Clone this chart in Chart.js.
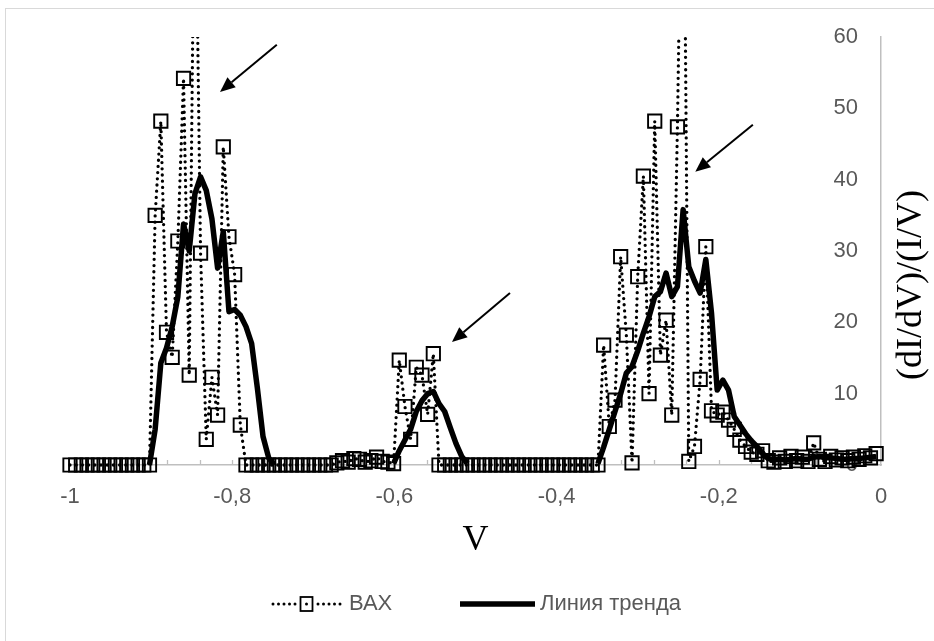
<!DOCTYPE html>
<html>
<head>
<meta charset="utf-8">
<script src="https://cdn.jsdelivr.net/npm/chart.js@4.4.1/dist/chart.umd.min.js"></script>
<style>
  html, body { margin: 0; padding: 0; background: #fff; overflow: hidden; }
  #wrap { position: relative; width: 934px; height: 641px; overflow: hidden; }
  #frame { position: absolute; left: 5px; top: 8px; width: 960px; height: 700px; border: 1px solid #d9d9d9; }
  #chart { position: absolute; left: 0; top: 0; }
</style>
</head>
<body>
<div id="wrap">
  <div id="frame"></div>
  <canvas id="chart" width="934" height="641"></canvas>
</div>
<script>
// voltage grid (V)
const voltage = [
  -1, -0.993, -0.986, -0.979, -0.972, -0.965, -0.958, -0.951, -0.944, -0.937,
  -0.93, -0.923, -0.916, -0.909, -0.902, -0.895, -0.888, -0.881, -0.874, -0.867,
  -0.86, -0.853, -0.846, -0.839, -0.832, -0.825, -0.818, -0.811, -0.804, -0.797,
  -0.79, -0.783, -0.776, -0.769, -0.762, -0.755, -0.748, -0.741, -0.734, -0.727,
  -0.72, -0.713, -0.706, -0.699, -0.692, -0.685, -0.678, -0.671, -0.664, -0.657,
  -0.65, -0.643, -0.636, -0.629, -0.622, -0.615, -0.608, -0.601, -0.594, -0.587,
  -0.58, -0.573, -0.566, -0.559, -0.552, -0.545, -0.538, -0.531, -0.524, -0.517,
  -0.51, -0.503, -0.496, -0.489, -0.482, -0.475, -0.468, -0.461, -0.454, -0.447,
  -0.44, -0.433, -0.426, -0.419, -0.412, -0.405, -0.398, -0.391, -0.384, -0.377,
  -0.37, -0.363, -0.356, -0.349, -0.342, -0.335, -0.328, -0.321, -0.314, -0.307,
  -0.3, -0.293, -0.286, -0.279, -0.272, -0.265, -0.258, -0.251, -0.244, -0.237,
  -0.23, -0.223, -0.216, -0.209, -0.202, -0.195, -0.188, -0.181, -0.174, -0.167,
  -0.16, -0.153, -0.146, -0.139, -0.132, -0.125, -0.118, -0.111, -0.104, -0.097,
  -0.09, -0.083, -0.076, -0.069, -0.062, -0.055, -0.048, -0.041, -0.034, -0.027,
  -0.02, -0.013, -0.006
];

// (dI/dV)/(I/V), measured
const vah = [
  0, 0, 0, 0, 0, 0, 0, 0, 0, 0,
  0, 0, 0, 0, 0, 35, 48.2, 18.6, 15.1, 31.4,
  54.2, 12.6, 90, 29.7, 3.6, 12.3, 7, 44.6, 32, 26.7,
  5.6, 0, 0, 0, 0, 0, 0, 0, 0, 0,
  0, 0, 0, 0, 0, 0, 0, 0.3, 0.6, 0.4,
  0.9, 0.8, 0.4, 0.6, 1.1, 0.5, 0.4, 0.2, 14.7, 8.2,
  3.6, 13.7, 12.6, 7.1, 15.6, 0, 0, 0, 0, 0,
  0, 0, 0, 0, 0, 0, 0, 0, 0, 0,
  0, 0, 0, 0, 0, 0, 0, 0, 0, 0,
  0, 0, 0, 0, 16.8, 5.4, 9.1, 29.2, 18.2, 0.3,
  26.4, 40.5, 10, 48.2, 15.4, 20.3, 7, 47.4, 100, 0.5,
  2.6, 12, 30.6, 7.6, 7.0, 7.4, 6.3, 5.0, 3.5, 2.6,
  1.8, 1.5, 2.0, 0.6, 0.4, 1.0, 0.5, 1.2, 0.6, 1.1,
  0.5, 3.1, 0.8, 0.5, 1.2, 0.7, 1.0, 0.6, 1.1, 0.8,
  1.3, 1.0, 1.6
];

// trend line (only where it is drawn)
const trend = [
  null, null, null, null, null, null, null, null, null, null,
  null, null, null, null, 0, 5, 14.3, 16.4, 19.4, 23.6,
  33.8, 30, 38, 40.4, 38.5, 34.5, 27.6, 32.7, 21.5, 21.8,
  21, 19.4, 17, 10.8, 4, 1, 0, null, null, null,
  null, null, null, null, null, null, null, null, null, null,
  null, null, null, null, null, null, null, 0.2, 2, 3.5,
  5, 7.5, 9, 10, 10.3, 8.6, 7.5, 5.2, 3, 1.2,
  0.2, null, null, null, null, null, null, null, null, null,
  null, null, null, null, null, null, null, null, null, null,
  null, null, null, 0.2, 2.5, 5, 7.5, 10, 12.9, 13.8,
  16, 18.5, 20.8, 23.6, 24.3, 26.9, 23.6, 25, 35.8, 27.8,
  25.8, 24.1, 28.8, 21.3, 10.5, 11.9, 10.5, 6.8, 5.6, 4.4,
  3.4, 2.6, 1.6, 0.9, 0.7, 0.8, 0.7, 0.8, 0.9, 0.8,
  0.8, 1.1, 1.2, 1.0, 1.0, 0.9, 0.8, 0.8, 0.9, 0.9,
  1.0, 1.1, 1.2
];

const seriesNames = ['ВАХ', 'Линия тренда'];

// annotation arrows, in data units
const arrowFromV = [-0.745, -0.4575, -0.158];
const arrowFromY = [58.9, 24.1, 47.7];
const arrowToV = [-0.815, -0.529, -0.229];
const arrowToY = [52.3, 17.25, 41.1];

const sans = "'Liberation Sans', Arial, sans-serif";
const serif = "'Times New Roman', 'Liberation Serif', serif";
const labelGray = '#595959';
const axisGray = '#bfbfbf';

function drawArrow(ctx, x1, y1, x2, y2) {
    const ang = Math.atan2(y2 - y1, x2 - x1);
    const len = 15, half = 6.5;
    const bx = x2 - len * Math.cos(ang);
    const by = y2 - len * Math.sin(ang);
    ctx.beginPath();
    ctx.moveTo(x1, y1);
    ctx.lineTo(bx, by);
    ctx.stroke();
    ctx.beginPath();
    ctx.moveTo(x2, y2);
    ctx.lineTo(bx + half * Math.sin(ang), by - half * Math.cos(ang));
    ctx.lineTo(bx - half * Math.sin(ang), by + half * Math.cos(ang));
    ctx.closePath();
    ctx.fill();
}

const decor = {
    id: 'decor',
    beforeDatasetsDraw(chart) {
        // small inward minor ticks on the V axis
        const {ctx, scales: {x, y}} = chart;
        const y0 = y.getPixelForValue(0);
        ctx.save();
        ctx.strokeStyle = axisGray;
        ctx.lineWidth = 1.3;
        for (let i = 1; i < 25; i++) {
            const px = Math.round(x.getPixelForValue(-1 + i * 0.04)) + 0.5;
            ctx.beginPath();
            ctx.moveTo(px, y0);
            ctx.lineTo(px, y0 - 5);
            ctx.stroke();
        }
        ctx.restore();
    },
    afterDraw(chart) {
        const {ctx, chartArea, scales: {x, y}} = chart;
        ctx.save();

        // arrows
        ctx.strokeStyle = '#000';
        ctx.fillStyle = '#000';
        ctx.lineWidth = 2;
        for (let i = 0; i < arrowFromV.length; i++) {
            drawArrow(ctx,
                x.getPixelForValue(arrowFromV[i]), y.getPixelForValue(arrowFromY[i]),
                x.getPixelForValue(arrowToV[i]), y.getPixelForValue(arrowToY[i]));
        }

        // y axis title, reading bottom to top
        ctx.save();
        ctx.translate(chartArea.right + 31, chartArea.top + 248);
        ctx.rotate(-Math.PI / 2);
        ctx.font = '36px ' + serif;
        ctx.fillStyle = '#000';
        ctx.textAlign = 'center';
        ctx.textBaseline = 'middle';
        ctx.fillText('(dI/dV)/(I/V)', 0, 0);
        ctx.restore();

        // legend
        const ly = 604;
        ctx.fillStyle = '#000';
        for (let k = 0; k < 5; k++) {
            ctx.beginPath();
            ctx.arc(273 + k * 5.5, ly, 1.5, 0, Math.PI * 2);
            ctx.fill();
            ctx.beginPath();
            ctx.arc(318 + k * 5.5, ly, 1.5, 0, Math.PI * 2);
            ctx.fill();
        }
        ctx.lineWidth = 1.8;
        ctx.strokeRect(300.5, ly - 7, 12, 14);
        ctx.beginPath();
        ctx.arc(306.5, ly, 1.5, 0, Math.PI * 2);
        ctx.fill();

        ctx.lineWidth = 5.5;
        ctx.beginPath();
        ctx.moveTo(460, ly);
        ctx.lineTo(535, ly);
        ctx.stroke();

        ctx.font = '22px ' + sans;
        ctx.fillStyle = labelGray;
        ctx.textAlign = 'left';
        ctx.textBaseline = 'middle';
        ctx.fillText(seriesNames[0], 349, ly);
        ctx.fillText(seriesNames[1], 540, ly);

        ctx.restore();
    }
};

const clipBox = {left: 12, right: 12, top: 0, bottom: 12};

new Chart(document.getElementById('chart'), {
    type: 'line',
    data: {
        labels: voltage,
        datasets: [{
            label: seriesNames[0],
            data: vah,
            yAxisID: 'y',
            borderColor: '#000',
            borderWidth: 3.3,
            borderDash: [0, 6.2],
            borderCapStyle: 'round',
            borderJoinStyle: 'round',
            pointStyle: 'rect',
            pointRadius: 9.4,
            pointBorderWidth: 1.9,
            pointBorderColor: '#000',
            pointBackgroundColor: 'rgba(0,0,0,0)',
            tension: 0,
            clip: clipBox
        }, {
            label: seriesNames[1],
            data: trend,
            yAxisID: 'y',
            borderColor: '#000',
            borderWidth: 5.5,
            borderJoinStyle: 'round',
            pointRadius: 0,
            tension: 0,
            spanGaps: false,
            clip: clipBox
        }]
    },
    options: {
        responsive: false,
        animation: false,
        layout: { padding: { left: 70, right: 0, top: 37, bottom: 0 } },
        plugins: {
            legend: { display: false },
            tooltip: { enabled: false }
        },
        scales: {
            x: {
                type: 'linear',
                position: 'bottom',
                min: -1,
                max: 0,
                grid: { display: false, drawTicks: false },
                border: { display: true, color: axisGray, width: 1.5 },
                ticks: {
                    stepSize: 0.2,
                    autoSkip: false,
                    maxRotation: 0,
                    padding: 19,
                    color: labelGray,
                    font: { family: sans, size: 22 },
                    callback: v => String(Math.round(v * 10) / 10).replace('.', ',')
                },
                title: {
                    display: true,
                    text: 'V',
                    color: '#000',
                    font: { family: serif, size: 36 },
                    padding: { top: 0, bottom: 79 }
                },
                afterFit: s => { s.height = 176; }
            },
            y: {
                type: 'linear',
                position: 'right',
                min: 0,
                max: 60,
                grid: { display: false, drawTicks: false },
                border: { display: true, color: axisGray, width: 1.5 },
                ticks: {
                    stepSize: 10,
                    mirror: true,
                    padding: -23,
                    color: labelGray,
                    font: { family: sans, size: 22 }
                },
                afterFit: s => { s.width = 53; }
            }
        }
    },
    plugins: [decor]
});
</script>
</body>
</html>
